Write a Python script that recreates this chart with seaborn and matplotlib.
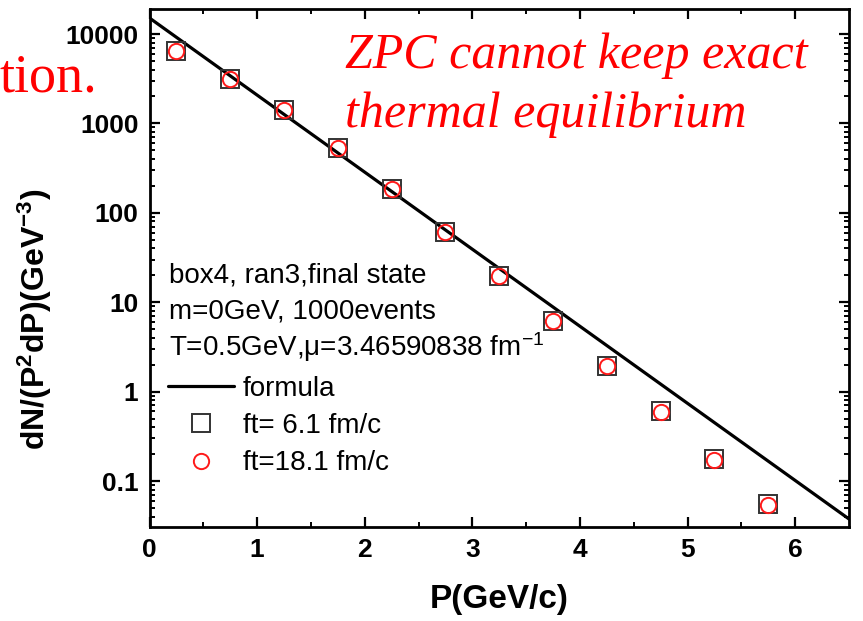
import numpy as np
import pandas as pd
import matplotlib
matplotlib.use("Agg")
import matplotlib.pyplot as plt
import seaborn as sns
from matplotlib.lines import Line2D
from matplotlib.ticker import LogLocator, FixedLocator, NullFormatter

# values
p_bins = [0.25, 0.75, 1.25, 1.75, 2.25, 2.75, 3.25, 3.75, 4.25, 4.75, 5.25, 5.75]
ft_6_1 = [6400, 3150, 1410, 530, 184, 61, 19.6, 6.2, 1.93, 0.60, 0.176, 0.056]
ft_18_1 = [6450, 3120, 1420, 526, 183, 61, 19.6, 6.15, 1.92, 0.595, 0.174, 0.054]
formula_p = [0.0, 6.5]
formula_val = [15100, 0.0376]
y_ticks = [0.1, 1, 10, 100, 1000, 10000]
y_tick_labels = ["0.1", "1", "10", "100", "1000", "10000"]
x_ticks = [0, 1, 2, 3, 4, 5, 6]

sns.set_theme(style="ticks")
plt.rcParams["font.family"] = ["Liberation Sans", "DejaVu Sans"]
plt.rcParams["mathtext.fontset"] = "custom"
plt.rcParams["mathtext.rm"] = "Liberation Sans"
plt.rcParams["mathtext.it"] = "Liberation Sans:italic"
plt.rcParams["mathtext.bf"] = "Liberation Sans:bold"
for key in ["text.color", "axes.labelcolor", "xtick.color", "ytick.color", "axes.edgecolor"]:
    plt.rcParams[key] = "black"

df = pd.DataFrame({"P": p_bins, "ft61": ft_6_1, "ft181": ft_18_1})
line_df = pd.DataFrame({"P": formula_p, "val": formula_val})

fig = plt.figure(figsize=(8.63, 6.21), dpi=100)
ax = fig.add_axes([149.5 / 863, 1 - 527 / 621, (849 - 149.5) / 863, (527 - 9) / 621])

sns.lineplot(data=line_df, x="P", y="val", ax=ax, color="black", linewidth=2.3)
sns.lineplot(data=df, x="P", y="ft61", ax=ax, linestyle="", marker="s", markersize=12.5,
             markerfacecolor="none", markeredgecolor="#333333", markeredgewidth=1.4)
sns.lineplot(data=df, x="P", y="ft181", ax=ax, linestyle="", marker="o", markersize=11,
             markerfacecolor="none", markeredgecolor="#ff1a1a", markeredgewidth=1.4)

ax.set_yscale("log")
ax.set_xlim(0, 6.5)
ax.set_ylim(0.0306, 19040)

ax.set_yticks(y_ticks)
ax.set_yticklabels(y_tick_labels)
ax.yaxis.set_minor_locator(LogLocator(base=10, subs=np.arange(2, 10)))
ax.yaxis.set_minor_formatter(NullFormatter())
ax.set_xticks(x_ticks)
ax.xaxis.set_minor_locator(FixedLocator(np.arange(0.5, 6.5, 1.0)))

for sp in ax.spines.values():
    sp.set_linewidth(2.0)
    sp.set_color("black")
    sp.set_visible(True)

ax.tick_params(which="both", direction="in", top=True, right=True, color="black",
               labelcolor="black")
ax.tick_params(which="major", length=7, width=1.6, pad=8)
ax.tick_params(which="minor", length=3.5, width=1.4)
for lab in ax.get_xticklabels() + ax.get_yticklabels():
    lab.set_fontsize(19)
    lab.set_fontweight("bold")

ax.set_xlabel("P(GeV/c)", fontsize=24, fontweight="bold", labelpad=16)
ax.set_ylabel(r"dN/(P$^{\mathbf{2}}$dP)(GeV$^{\mathbf{-3}}$)", fontsize=23, fontweight="bold")
ax.yaxis.set_label_coords(-0.137, 0.40)

# info text block
info = ["box4, ran3,final state", "m=0GeV, 1000events", "T=0.5GeV,\u03bc=3.46590838 fm$^{-1}$"]
for i, s in enumerate(info):
    ax.text(0.028, (527 - 275 - 36 * i) / 518, s, transform=ax.transAxes,
            fontsize=20, va="center", ha="left", color="black")

handles = [
    Line2D([], [], color="black", linewidth=2.3),
    Line2D([], [], linestyle="", marker="s", markersize=12.5, markerfacecolor="none",
           markeredgecolor="#333333", markeredgewidth=1.4),
    Line2D([], [], linestyle="", marker="o", markersize=11, markerfacecolor="none",
           markeredgecolor="#ff1a1a", markeredgewidth=1.4),
]
ax.legend(handles, ["formula", "ft= 6.1 fm/c", "ft=18.1 fm/c"], loc="upper left",
          bbox_to_anchor=((168 - 150) / 699, (527 - 376) / 518), frameon=False,
          fontsize=20, borderpad=0, borderaxespad=0, handlelength=2.4,
          handletextpad=0.3, labelspacing=0.4, labelcolor="black")

# red overlay annotations
fig.text(0.0, 1 - 92 / 621, "tion.", color="#ff0000", fontsize=39,
         family="Liberation Serif", ha="left", va="baseline")
fig.text(345 / 863, 1 - 68 / 621, "ZPC cannot keep exact", color="#ff0000", fontsize=36,
         family="Liberation Serif", style="italic", ha="left", va="baseline")
fig.text(345 / 863, 1 - 127 / 621, "thermal equilibrium", color="#ff0000", fontsize=36,
         family="Liberation Serif", style="italic", ha="left", va="baseline")

fig.savefig("out.png", dpi=100)
